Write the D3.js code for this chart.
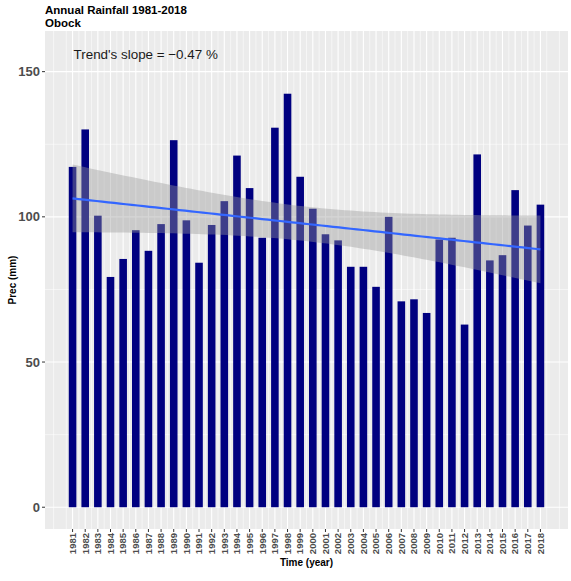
<!DOCTYPE html>
<html>
<head>
<meta charset="utf-8">
<script src="https://cdn.jsdelivr.net/npm/d3@7"></script>
<style>
  body { margin: 0; background: #ffffff; }
  text { font-family: "Liberation Sans", Arial, sans-serif; }
</style>
</head>
<body>
<div id="chart"></div>
<script>
var years = [1981, 1982, 1983, 1984, 1985, 1986, 1987, 1988, 1989, 1990,
    1991, 1992, 1993, 1994, 1995, 1996, 1997, 1998, 1999, 2000,
    2001, 2002, 2003, 2004, 2005, 2006, 2007, 2008, 2009, 2010,
    2011, 2012, 2013, 2014, 2015, 2016, 2017, 2018];
var rainfall = [117.2, 130.1, 100.4, 79.3, 85.5, 95.4, 88.3, 97.5, 126.4, 98.8,
    84.2, 97.2, 105.4, 121.1, 109.9, 92.8, 130.7, 142.4, 113.8, 102.8,
    94.0, 91.9, 82.8, 82.8, 75.9, 100.0, 70.9, 71.6, 66.9, 92.2,
    92.8, 62.9, 121.5, 85.0, 86.8, 109.2, 97.0, 104.2];
var yTicks = [0, 50, 100, 150];
var yMinor = [25, 75, 125];
var yDomain = [-7.5, 164];
var slopeLabel = "Trend's slope = \u22120.47 %";
var title = "Annual Rainfall 1981-2018";
var subtitle = "Obock";

var width = 571, height = 581;
var panel = { left: 45, right: 568, top: 31, bottom: 529 };
var barWidth = 0.6;
var tCrit = 2.028; // t(0.975, df = 36)

var svg = d3.select("#chart")
    .append("svg")
    .attr("width", width)
    .attr("height", height);

// x range: bars plus 5% expansion
var xMin = d3.min(years) - barWidth / 2, xMax = d3.max(years) + barWidth / 2;
var xPad = (xMax - xMin) * 0.05;
var x = d3.scaleLinear()
    .domain([xMin - xPad, xMax + xPad])
    .range([panel.left, panel.right]);
var y = d3.scaleLinear()
    .domain(yDomain)
    .range([panel.bottom, panel.top]);

// panel
svg.append("rect")
    .attr("x", panel.left)
    .attr("y", panel.top)
    .attr("width", panel.right - panel.left)
    .attr("height", panel.bottom - panel.top)
    .attr("fill", "#ebebeb");

var minorX = d3.range(d3.min(years) - 2, d3.max(years) + 2.5, 0.5)
    .filter(function(d) { return x(d) > panel.left && x(d) < panel.right && d % 1 != 0; });

svg.selectAll(".minor-x")
    .data(minorX)
    .enter().append("line")
    .attr("x1", function(d) { return x(d); })
    .attr("x2", function(d) { return x(d); })
    .attr("y1", panel.top)
    .attr("y2", panel.bottom)
    .attr("stroke", "#ffffff")
    .attr("stroke-width", 0.55);

svg.selectAll(".minor-y")
    .data(yMinor)
    .enter().append("line")
    .attr("x1", panel.left)
    .attr("x2", panel.right)
    .attr("y1", function(d) { return y(d); })
    .attr("y2", function(d) { return y(d); })
    .attr("stroke", "#ffffff")
    .attr("stroke-width", 0.55);

svg.selectAll(".major-x")
    .data(years)
    .enter().append("line")
    .attr("x1", function(d) { return x(d); })
    .attr("x2", function(d) { return x(d); })
    .attr("y1", panel.top)
    .attr("y2", panel.bottom)
    .attr("stroke", "#ffffff")
    .attr("stroke-width", 1.1);

svg.selectAll(".major-y")
    .data(yTicks)
    .enter().append("line")
    .attr("x1", panel.left)
    .attr("x2", panel.right)
    .attr("y1", function(d) { return y(d); })
    .attr("y2", function(d) { return y(d); })
    .attr("stroke", "#ffffff")
    .attr("stroke-width", 1.1);

// bars
var bw = x(barWidth) - x(0);
svg.selectAll(".bar")
    .data(rainfall)
    .enter().append("rect")
    .attr("x", function(d, i) { return x(years[i]) - bw / 2; })
    .attr("y", function(d) { return y(d); })
    .attr("width", bw)
    .attr("height", function(d) { return y(0) - y(d); })
    .attr("fill", "#000080");

// linear trend with 95% confidence band
var n = years.length;
var mx = d3.mean(years), my = d3.mean(rainfall);
var sxx = d3.sum(years, function(d) { return (d - mx) * (d - mx); });
var sxy = d3.sum(years, function(d, i) { return (d - mx) * (rainfall[i] - my); });
var slope = sxy / sxx, intercept = my - slope * mx;
var sse = d3.sum(years, function(d, i) {
    var r = rainfall[i] - (intercept + slope * d);
    return r * r;
});
var se = Math.sqrt(sse / (n - 2));
var fit = d3.range(80).map(function(k) {
    var xv = d3.min(years) + k * (d3.max(years) - d3.min(years)) / 79;
    var yv = intercept + slope * xv;
    var half = tCrit * se * Math.sqrt(1 / n + (xv - mx) * (xv - mx) / sxx);
    return { x: xv, y: yv, lo: yv - half, hi: yv + half };
});

svg.append("path")
    .datum(fit)
    .attr("d", d3.area()
        .x(function(d) { return x(d.x); })
        .y0(function(d) { return y(d.lo); })
        .y1(function(d) { return y(d.hi); }))
    .attr("fill", "#999999")
    .attr("fill-opacity", 0.4);

svg.append("path")
    .datum(fit)
    .attr("d", d3.line()
        .x(function(d) { return x(d.x); })
        .y(function(d) { return y(d.y); }))
    .attr("fill", "none")
    .attr("stroke", "#3366ff")
    .attr("stroke-width", 2.2);

// annotation
svg.append("text")
    .attr("x", x(1981) + 1)
    .attr("y", y(156) + 5)
    .attr("font-size", "13.4px")
    .attr("fill", "#1a1a1a")
    .text(slopeLabel);

// y axis
svg.selectAll(".ytick")
    .data(yTicks)
    .enter().append("line")
    .attr("x1", panel.left - 3)
    .attr("x2", panel.left)
    .attr("y1", function(d) { return y(d); })
    .attr("y2", function(d) { return y(d); })
    .attr("stroke", "#333333")
    .attr("stroke-width", 1);

svg.selectAll(".ylab")
    .data(yTicks)
    .enter().append("text")
    .attr("x", panel.left - 5)
    .attr("y", function(d) { return y(d) + 4.5; })
    .attr("text-anchor", "end")
    .attr("font-size", "13px")
    .attr("font-weight", "bold")
    .attr("fill", "#4d4d4d")
    .text(function(d) { return d; });

// x axis
svg.selectAll(".xtick")
    .data(years)
    .enter().append("line")
    .attr("x1", function(d) { return x(d); })
    .attr("x2", function(d) { return x(d); })
    .attr("y1", panel.bottom)
    .attr("y2", panel.bottom + 3)
    .attr("stroke", "#333333")
    .attr("stroke-width", 1);

svg.selectAll(".xlab")
    .data(years)
    .enter().append("text")
    .attr("transform", function(d) {
        return "translate(" + (x(d) + 3.3) + "," + (panel.bottom + 4) + ") rotate(-90)";
    })
    .attr("text-anchor", "end")
    .attr("font-size", "9.5px")
    .attr("font-weight", "bold")
    .attr("fill", "#4d4d4d")
    .text(function(d) { return d; });

// axis titles
svg.append("text")
    .attr("x", (panel.left + panel.right) / 2)
    .attr("y", 566)
    .attr("text-anchor", "middle")
    .attr("font-size", "10px")
    .attr("font-weight", "bold")
    .attr("fill", "#000000")
    .text("Time (year)");

svg.append("text")
    .attr("transform", "translate(16," + ((panel.top + panel.bottom) / 2) + ") rotate(-90)")
    .attr("text-anchor", "middle")
    .attr("font-size", "10px")
    .attr("font-weight", "bold")
    .attr("fill", "#000000")
    .text("Prec (mm)");

// titles
svg.append("text")
    .attr("x", panel.left)
    .attr("y", 14)
    .attr("font-size", "11.5px")
    .attr("font-weight", "bold")
    .attr("fill", "#000000")
    .text(title);

svg.append("text")
    .attr("x", panel.left)
    .attr("y", 27)
    .attr("font-size", "11.5px")
    .attr("font-weight", "bold")
    .attr("fill", "#000000")
    .text(subtitle);
</script>
</body>
</html>
